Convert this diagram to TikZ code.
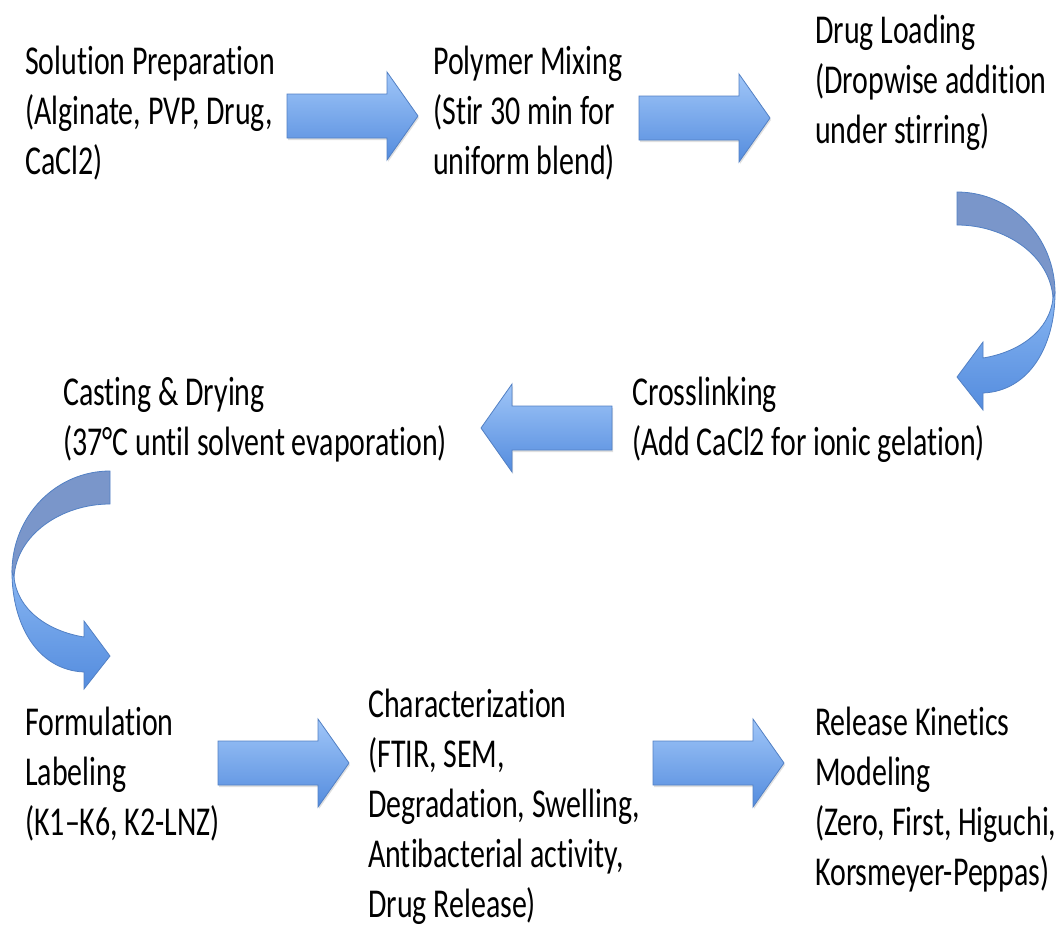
\documentclass[tikz,border=0pt]{standalone}
\usepackage{fontspec}
\setmainfont{Carlito}[FakeStretch=0.73, Ligatures=NoCommon]
\usepackage{tikz}
\usetikzlibrary{shadows}

\definecolor{arrowtop}{RGB}{160,198,248}
\definecolor{arrowbot}{RGB}{84,140,222}
\definecolor{arrowline}{RGB}{82,128,196}
\definecolor{ribbondark}{RGB}{122,150,202}
\definecolor{ribbonlight}{RGB}{136,182,242}

\tikzset{
  stagetext/.style={anchor=base west, inner sep=0pt, align=left,
    font=\fontsize{41}{50}\selectfont},
  blkarrow/.style={top color=arrowtop, bottom color=arrowbot, draw=arrowline,
    line width=0.8pt, line join=miter,
    drop shadow={opacity=0.25, shadow xshift=1pt, shadow yshift=-2pt}},
  ribbonback/.style={fill=ribbondark, draw=arrowline, line width=0.8pt},
  ribbonfront/.style={top color=ribbonlight, bottom color=arrowbot,
    draw=arrowline, line width=0.8pt}
}

\newcommand{\blockarrow}[3]{%
  \begin{scope}[shift={(#1,#2)}, xscale=#3]
    \path[blkarrow] (0,-22) -- (100,-22) -- (100,-44) -- (131,0)
      -- (100,44) -- (100,22) -- (0,22) -- cycle;
  \end{scope}}

\newcommand{\bendarrow}[3]{%
  \begin{scope}[shift={(#1,#2)}, xscale=#3]
    \path[ribbonback] (0,0) .. controls (54,0) and (98,45) .. (98,101)
      -- (96,106) .. controls (93,63) and (48,33) .. (0,33) -- cycle;
    \path[ribbonfront] (98,101) .. controls (98,153) and (73,199) .. (26,201)
      -- (26,218) -- (0,185) -- (26,150) -- (26,166)
      .. controls (63,160) and (93,138) .. (96,106) -- cycle;
  \end{scope}}

\begin{document}
\begin{tikzpicture}[x=1pt, y=-1pt]
\useasboundingbox (0,0) rectangle (1062,924);

% base anchor sits on the last line
\node[stagetext] (prep) at (25,174) {Solution Preparation\\(Alginate, PVP, Drug,\\CaCl2)};
\node[stagetext] (mix) at (433,174) {Polymer Mixing\\(Stir 30 min for\\uniform blend)};
\node[stagetext] (load) at (815,143) {Drug Loading\\(Dropwise addition\\under stirring)};
\node[stagetext] (cross) at (632,455) {Crosslinking\\(Add CaCl2 for ionic gelation)};
\node[stagetext] (cast) at (63,455) {Casting \& Drying\\(37°C until solvent evaporation)};
\node[stagetext] (label) at (25,835) {Formulation\\Labeling\\(K1–K6, K2-LNZ)};
\node[stagetext] (charac) at (368,917) {Characterization\\(FTIR, SEM,\\Degradation, Swelling,\\Antibacterial activity,\\Drug Release)};
\node[stagetext] (kinetics) at (815,885) {Release Kinetics\\Modeling\\(Zero, First, Higuchi,\\Korsmeyer-Peppas)};

\blockarrow{287}{116}{1}
\blockarrow{639}{118}{1}
\bendarrow{957}{192}{1}
\blockarrow{612}{428}{-1}
\bendarrow{110}{471}{-1}
\blockarrow{218}{763}{1}
\blockarrow{653}{763}{1}
\end{tikzpicture}
\end{document}
